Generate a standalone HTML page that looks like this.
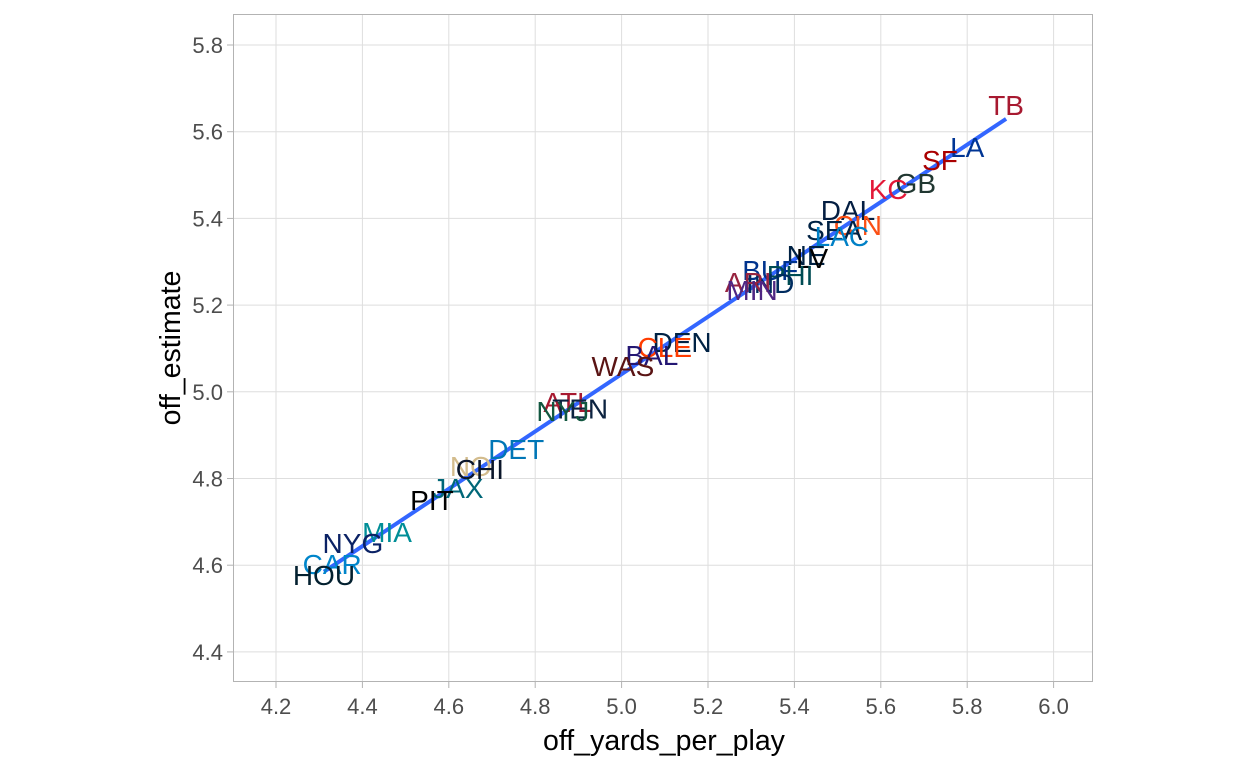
<!DOCTYPE html>
<html><head><meta charset="utf-8"><style>
html,body{margin:0;padding:0;background:#fff;}
svg{display:block;font-family:"Liberation Sans",Arial,sans-serif;}
</style></head><body>
<svg id="chart" width="1248" height="768" viewBox="0 0 1248 768" xmlns="http://www.w3.org/2000/svg"></svg>
<script>
const teams=["TB","LA","SF","GB","KC","DAL","CIN","SEA","LAC","NE","LV","BUF","PHI","IND","ARI","MIN","DEN","CLE","BAL","WAS","ATL","TEN","NYJ","DET","NO","CHI","JAX","PIT","MIA","NYG","CAR","HOU"];
const yardsPerPlay=[5.890,5.800,5.737,5.681,5.617,5.524,5.547,5.492,5.510,5.427,5.441,5.344,5.390,5.344,5.293,5.302,5.140,5.100,5.070,5.003,4.876,4.904,4.864,4.756,4.651,4.672,4.621,4.561,4.457,4.378,4.330,4.311];
const estimate=[5.662,5.565,5.535,5.482,5.468,5.419,5.385,5.373,5.359,5.316,5.309,5.281,5.269,5.251,5.253,5.235,5.115,5.103,5.085,5.060,4.976,4.962,4.956,4.868,4.829,4.822,4.778,4.750,4.677,4.651,4.603,4.577];
const teamColors=["#A71930","#003594","#AA0000","#203731","#E31837","#041E42","#FB4F14","#002244","#0080C6","#002244","#000000","#00338D","#004C54","#002C5F","#97233F","#4F2683","#002244","#FF3C00","#241773","#5A1414","#A71930","#0C2340","#125740","#0076B6","#D3BC8D","#0B162A","#006778","#000000","#008E97","#0B2265","#0085CA","#03202F"];
const xTicks=[4.2,4.4,4.6,4.8,5.0,5.2,5.4,5.6,5.8,6.0];
const yTicks=[4.4,4.6,4.8,5.0,5.2,5.4,5.6,5.8];

const svg=document.getElementById('chart');
const NS='http://www.w3.org/2000/svg';
const X=v=>276+(v-4.2)*432;
const Y=v=>45+(5.8-v)*433.5;
function mk(tag,attrs,parent){const e=document.createElementNS(NS,tag);for(const k in attrs)e.setAttribute(k,attrs[k]);(parent||svg).appendChild(e);return e;}

const panel=mk('rect',{x:233,y:14,width:860,height:668,fill:'#fff',stroke:'none'});


const grid=mk('g',{});


xTicks.forEach(t=>mk('line',{x1:X(t),x2:X(t),y1:14,y2:682,stroke:'#dedede','stroke-width':1},grid));
yTicks.forEach(t=>mk('line',{x1:233,x2:1093,y1:Y(t),y2:Y(t),stroke:'#dedede','stroke-width':1},grid));
const border=mk('rect',{x:233.5,y:14.5,width:859,height:667,fill:'none',stroke:'#b3b3b3','stroke-width':1});



const xax=mk('g',{});


xTicks.forEach(t=>{
  mk('line',{x1:X(t),x2:X(t),y1:682,y2:688,stroke:'#b3b3b3'},xax);
  const tx=mk('text',{x:X(t),y:714,'text-anchor':'middle','font-size':22,fill:'#4d4d4d'},xax);
  tx.textContent=t.toFixed(1);
  
  
});
const yax=mk('g',{});


yTicks.forEach(t=>{
  mk('line',{x1:227,x2:233,y1:Y(t),y2:Y(t),stroke:'#b3b3b3'},yax);
  const tx=mk('text',{x:223,y:Y(t)+8,'text-anchor':'end','font-size':22,fill:'#4d4d4d'},yax);
  tx.textContent=t.toFixed(1);
  
  
});
const xt=mk('text',{x:664,y:750,'text-anchor':'middle','font-size':28.5,fill:'#000'});
xt.textContent='off_yards_per_play';


const yt=mk('text',{x:0,y:0,'text-anchor':'middle','font-size':28.5,fill:'#000',transform:'translate(180,348) rotate(-90)'});
yt.textContent='off_estimate';



// regression line
const n=teams.length;
let mx=0,my=0;for(let i=0;i<n;i++){mx+=yardsPerPlay[i];my+=estimate[i];}mx/=n;my/=n;
let sxy=0,sxx=0;for(let i=0;i<n;i++){sxy+=(yardsPerPlay[i]-mx)*(estimate[i]-my);sxx+=(yardsPerPlay[i]-mx)**2;}
const b=sxy/sxx,a=my-b*mx;
const xmin=Math.min(...yardsPerPlay),xmax=Math.max(...yardsPerPlay);
const fit=mk('line',{x1:X(xmin),y1:Y(a+b*xmin),x2:X(xmax),y2:Y(a+b*xmax),stroke:'#3366FF','stroke-width':4});



const labels=mk('g',{});


for(let i=0;i<n;i++){
  const t=mk('text',{x:X(yardsPerPlay[i]),y:Y(estimate[i])+10,'text-anchor':'middle','font-size':28,fill:teamColors[i]},labels);
  t.textContent=teams[i];
  
  
}
</script>
</body></html>
